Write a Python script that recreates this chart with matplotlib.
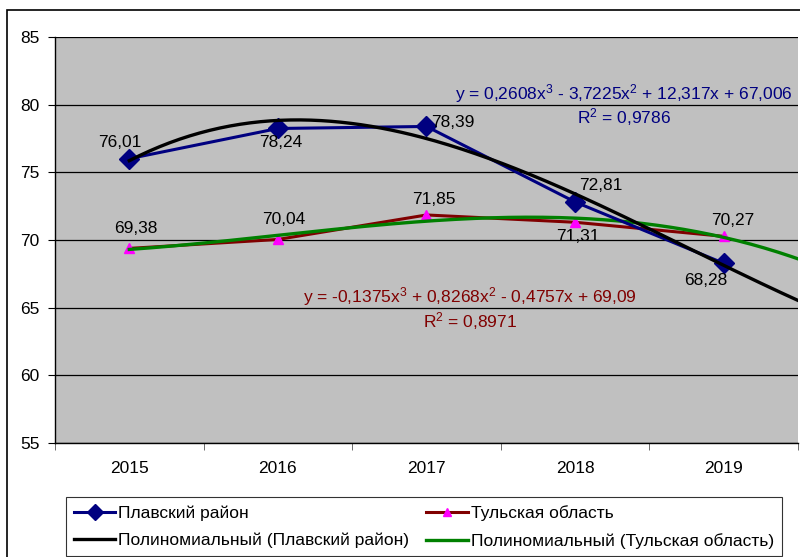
import numpy as np
import matplotlib
matplotlib.use('Agg')
import matplotlib.pyplot as plt
from matplotlib.patches import Rectangle

plt.rcParams['font.family'] = ['Liberation Sans', 'DejaVu Sans']
plt.rcParams['mathtext.fontset'] = 'custom'
plt.rcParams['mathtext.rm'] = 'Liberation Sans'
plt.rcParams['mathtext.it'] = 'Liberation Sans:italic'

# данные
years = ['2015', '2016', '2017', '2018', '2019']
plavsk = [76.01, 78.24, 78.39, 72.81, 68.28]
tula = [69.38, 70.04, 71.85, 71.31, 70.27]

# полиномиальные тренды (коэффициенты из подписи Excel)
coef_plavsk = [0.2608, -3.7225, 12.317, 67.006]
coef_tula = [-0.1375, 0.8268, -0.4757, 69.09]

# смещения подписей, пиксели
off_plavsk = [(-9, 16), (3, -14), (26, 4), (26, 16), (-18, -17)]
off_tula = [(7, 20), (6, 20), (7, 15), (3, -14), (9, 16)]

FS = 12.5

fig = plt.figure(figsize=(8, 5.57), dpi=100)
ax = fig.add_axes([55 / 800, 1 - 443 / 557, 743 / 800, 406 / 557])
ax.set_facecolor('#C0C0C0')

x = np.arange(1, 6)
xt = np.linspace(1, 5.5, 200)

l1, = ax.plot(x, plavsk, color='#000080', lw=2.2, marker='D', ms=10,
              mfc='#000080', mec='#000080', label='Плавский район', zorder=4)
l2, = ax.plot(x, tula, color='#800000', lw=2.2, marker='^', ms=7,
              mfc='#FF00FF', mec='#FF00FF', label='Тульская область', zorder=3)
l3, = ax.plot(xt, np.polyval(coef_plavsk, xt), color='black', lw=2.4,
              label='Полиномиальный (Плавский район)', zorder=5)
l4, = ax.plot(xt, np.polyval(coef_tula, xt), color='#008000', lw=2.4,
              label='Полиномиальный (Тульская область)', zorder=3)

for xi, v, o in zip(x, plavsk, off_plavsk):
    ax.annotate(f'{v:.2f}'.replace('.', ','), (xi, v), xytext=o,
                textcoords='offset pixels', ha='center', va='center',
                fontsize=FS, zorder=6)
for xi, v, o in zip(x, tula, off_tula):
    ax.annotate(f'{v:.2f}'.replace('.', ','), (xi, v), xytext=o,
                textcoords='offset pixels', ha='center', va='center',
                fontsize=FS, zorder=6)

ax.text(4.33, 80.85, r'y = 0,2608x$^3$ - 3,7225x$^2$ + 12,317x + 67,006',
        color='#000080', fontsize=FS, ha='center', va='center')
ax.text(4.33, 79.05, r'R$^2$ = 0,9786', color='#000080', fontsize=FS,
        ha='center', va='center')
ax.text(3.29, 65.85, r'y = -0,1375x$^3$ + 0,8268x$^2$ - 0,4757x + 69,09',
        color='#800000', fontsize=FS, ha='center', va='center')
ax.text(3.29, 64.0, r'R$^2$ = 0,8971', color='#800000', fontsize=FS,
        ha='center', va='center')

ax.set_xlim(0.5, 5.5)
ax.set_ylim(55, 85)
ax.set_yticks(range(55, 86, 5))
ax.set_xticks(x)
ax.set_xticklabels(years)
ax.set_xticks(np.arange(0.5, 5.6, 1), minor=True)
ax.tick_params(axis='x', which='major', length=0, pad=13, labelsize=FS)
ax.tick_params(axis='x', which='minor', length=5, direction='out', color='#555555')
ax.tick_params(axis='y', length=5, direction='out', labelsize=FS, pad=6)
ax.yaxis.grid(True, color='black', lw=0.9)
ax.set_axisbelow(True)
for s in ['top', 'right']:
    ax.spines[s].set_visible(False)
ax.spines['left'].set_linewidth(1.0)
ax.spines['bottom'].set_linewidth(1.0)

leg = fig.legend(handles=[l1, l3, l2, l4], ncol=2, loc='upper left',
                 bbox_to_anchor=(66 / 800, 1 - 497 / 557), fontsize=FS,
                 frameon=True, fancybox=False, edgecolor='black',
                 handlelength=2.4, handletextpad=0.15, columnspacing=1.0,
                 borderaxespad=0, borderpad=0.45, labelspacing=0.7,
                 markerscale=0.8)
leg.get_frame().set_linewidth(0.8)

fig.patches.append(Rectangle((7 / 800, -0.05), 1.2, 1 - 10 / 557 + 0.05,
                             transform=fig.transFigure, fill=False,
                             edgecolor='black', lw=1.2))

fig.savefig('out.png', dpi=100)
